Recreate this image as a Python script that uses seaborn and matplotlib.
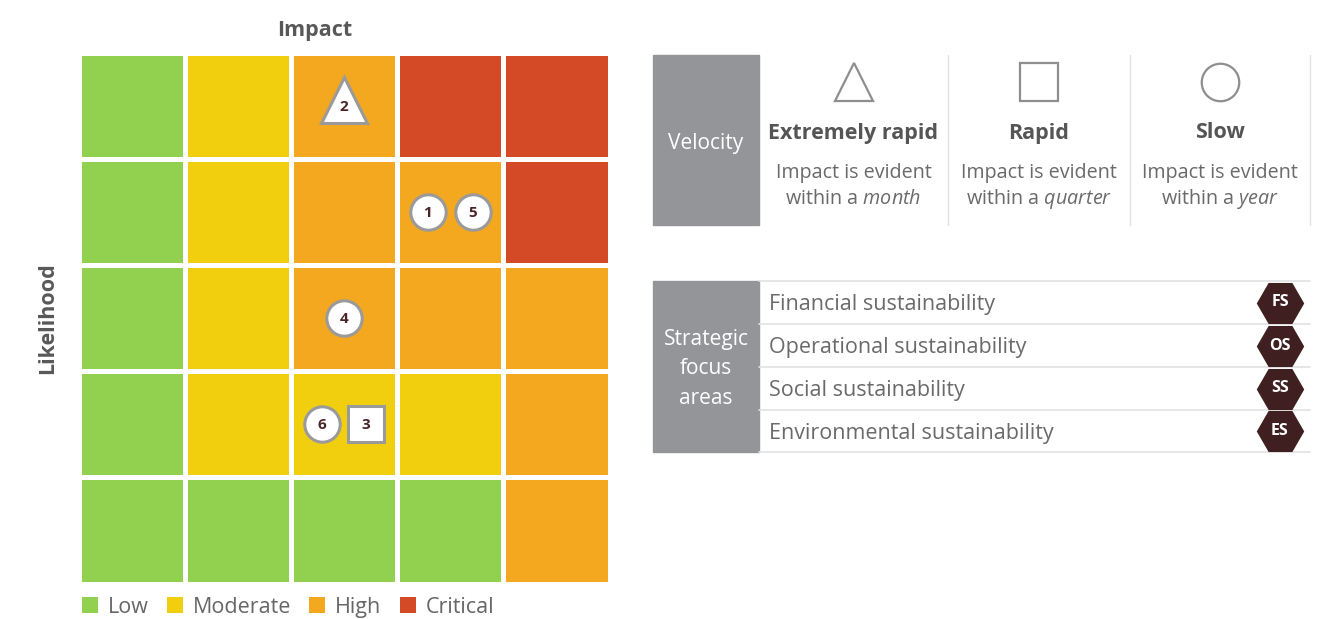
import numpy as np
import pandas as pd
import matplotlib.pyplot as plt
import seaborn as sns
from matplotlib.colors import ListedColormap
from matplotlib.patches import Patch, Rectangle

# heat map levels: 0 Low, 1 Moderate, 2 High, 3 Critical (top row = highest likelihood)
levels = [
    [0, 1, 2, 3, 3],
    [0, 1, 2, 2, 3],
    [0, 1, 2, 2, 2],
    [0, 1, 1, 1, 2],
    [0, 0, 0, 0, 2],
]
level_names = ["Low", "Moderate", "High", "Critical"]
level_colors = ["#92d050", "#f2cf0e", "#f4a81f", "#d44a26"]

# risks: impact (column, 1-5), likelihood (row, 1-5), offset inside cell, velocity
risk_ids = ["1", "2", "3", "4", "5", "6"]
risk_impact = [4, 3, 3, 3, 4, 3]
risk_likelihood = [4, 5, 2, 3, 4, 2]
risk_offset = [-0.21, 0.0, 0.21, 0.0, 0.21, -0.21]
risk_velocity = ["slow", "extreme", "rapid", "slow", "slow", "slow"]

velocity_keys = ["extreme", "rapid", "slow"]
velocity_titles = ["Extremely rapid", "Rapid", "Slow"]
velocity_periods = ["month", "quarter", "year"]
velocity_markers = {"extreme": "^", "rapid": "s", "slow": "o"}

focus_areas = ["Financial sustainability", "Operational sustainability",
               "Social sustainability", "Environmental sustainability"]
focus_codes = ["FS", "OS", "SS", "ES"]

sns.set_style("white")
plt.rcParams["font.family"] = ["Open Sans", "DejaVu Sans"]
plt.rcParams["mathtext.fontset"] = "custom"
plt.rcParams["mathtext.rm"] = "Open Sans"
plt.rcParams["mathtext.it"] = "Open Sans:italic"

W, H = 1326, 619
fig = plt.figure(figsize=(W / 100, H / 100), dpi=100)

# ---- heat map ----
ax = fig.add_axes([78.5 / W, 1 - 583.5 / H, 531 / W, 531 / H])
df = pd.DataFrame(levels)
sns.heatmap(df, ax=ax, cmap=ListedColormap(level_colors), vmin=-0.5, vmax=3.5,
            cbar=False, linewidths=2.2, linecolor="white")
ax.set_xticks([])
ax.set_yticks([])
ax.set_xlabel("")
ax.set_ylabel("")

edge = "#9a9a9a"
txt_dark = "#4a2427"
for rid, imp, lik, off, vel in zip(risk_ids, risk_impact, risk_likelihood,
                                   risk_offset, risk_velocity):
    x = imp - 0.5 + off
    y = 5 - lik + 0.5
    m = velocity_markers[vel]
    size = {"^": 33, "s": 26, "o": 25.5}[m]
    dy = 0.05 if m == "^" else 0
    ax.plot(x, y - dy, marker=m, markersize=size, markerfacecolor="white",
            markeredgecolor=edge, markeredgewidth=2.2, linestyle="none")
    ax.text(x, y + 0.01, rid, ha="center", va="center", fontsize=11,
            fontweight="bold", color=txt_dark)

ax.text(0.445, 1.042, "Impact", transform=ax.transAxes, ha="center",
        va="center", fontsize=15.5, fontweight="bold", color="#585858")
ax.text(-0.058, 0.5, "Likelihood", transform=ax.transAxes, ha="center",
        va="center", rotation=90, fontsize=15.5, fontweight="bold",
        color="#585858")

handles = [Patch(facecolor=c, edgecolor="none", label=n)
           for c, n in zip(level_colors, level_names)]
leg = ax.legend(handles=handles, loc="upper left", bbox_to_anchor=(0.006, -0.025),
                ncol=4, frameon=False, fontsize=15.5, handlelength=0.75,
                handleheight=0.75, handletextpad=0.45, columnspacing=0.85,
                borderaxespad=0.0, borderpad=0.0)
for t in leg.get_texts():
    t.set_color("#666666")

# ---- key tables on the right (pixel coords) ----
kx = fig.add_axes([0, 0, 1, 1], facecolor="none")
kx.set_xlim(0, W)
kx.set_ylim(H, 0)
kx.axis("off")

box_gray = "#939598"
text_gray = "#6a6a6a"
line_gray = "#e2e2e2"

# velocity table
kx.add_patch(Rectangle((653, 55), 106, 170, color=box_gray))
kx.text(706, 143, "Velocity", ha="center", va="center", fontsize=15,
        color="white")
col_edges = [759, 948, 1130, 1310]
for e in col_edges[1:]:
    kx.plot([e, e], [55, 225], color=line_gray, lw=1)
for i, (key, title, per) in enumerate(zip(velocity_keys, velocity_titles,
                                          velocity_periods)):
    cx = (col_edges[i] + col_edges[i + 1]) / 2
    m = velocity_markers[key]
    ms = {"^": 28, "s": 27, "o": 27}[m]
    kx.plot(cx, 82, marker=m, markersize=ms, markerfacecolor="white",
            markeredgecolor="#8e8e8e", markeredgewidth=1.6, linestyle="none")
    kx.text(cx, 133, title, ha="center", va="center", fontsize=15.5,
            fontweight="bold", color="#555555")
    kx.text(cx, 173, "Impact is evident", ha="center", va="center",
            fontsize=14.2, color=text_gray)
    kx.text(cx, 199, "within a $\\it{" + per + "}$", ha="center", va="center",
            fontsize=14.2, color=text_gray)

# strategic focus table
row_lines = [281, 324, 367, 410, 452]
kx.add_patch(Rectangle((653, 281), 106, 171, color=box_gray))
kx.text(706, 369, "Strategic\nfocus\nareas", ha="center", va="center",
        fontsize=15, color="white", linespacing=1.5)
for yl in row_lines:
    kx.plot([759, 1310], [yl, yl], color=line_gray, lw=1.2)
for i, (name, code) in enumerate(zip(focus_areas, focus_codes)):
    cy = (row_lines[i] + row_lines[i + 1]) / 2
    kx.text(769, cy + 2, name, ha="left", va="center", fontsize=15.5,
            color=text_gray)
    kx.plot(1280, cy, marker="H", markersize=33, color="#3f1f20",
            linestyle="none")
    kx.text(1280, cy, code, ha="center", va="center", fontsize=11.5,
            fontweight="bold", color="white")

fig.savefig("out.png", dpi=100)
